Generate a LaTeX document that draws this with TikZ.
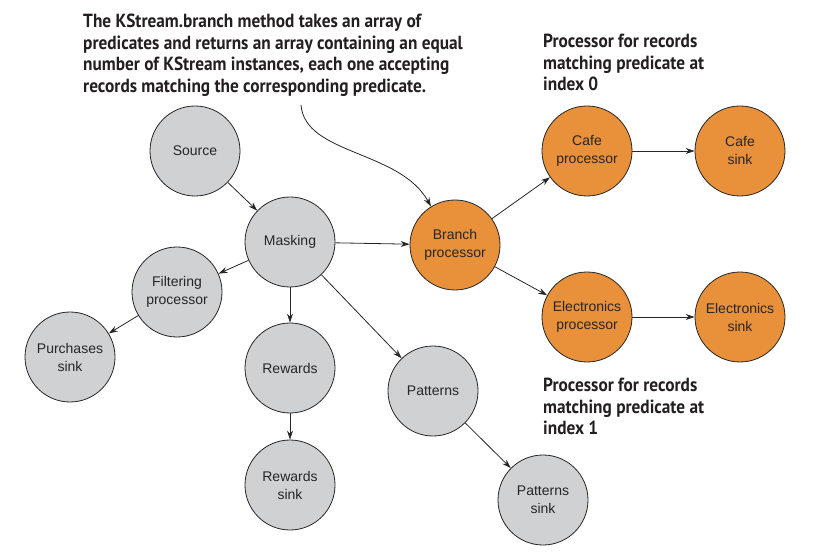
\documentclass[tikz,border=0pt]{standalone}
\usepackage{fontspec}
\setmainfont{Liberation Sans}
\newfontfamily\annfont[FakeStretch=0.91]{PT Sans Bold}
\usetikzlibrary{arrows.meta}
\definecolor{nodegray}{HTML}{D0D1D3}
\definecolor{nodeorange}{HTML}{E8903A}
\definecolor{anntext}{HTML}{231F20}
\begin{document}
\begin{tikzpicture}[x=1pt,y=-1pt,
  proc/.style={circle,draw=black!85,line width=0.8pt,minimum size=90pt,inner sep=0pt,
    font=\fontsize{14}{18}\selectfont,align=center,text=black!85},
  grayproc/.style={proc,fill=nodegray},
  orangeproc/.style={proc,fill=nodeorange},
  conn/.style={line width=0.8pt,draw=black!85,-{Stealth[length=9pt,width=6pt]}},
  ann/.style={font=\annfont\fontsize{19}{21.5}\selectfont,text=anntext,align=left,anchor=north west,inner sep=0pt}]
\useasboundingbox (0,0) rectangle (819,553);
\node[grayproc] (source) at (195,151) {Source};
\node[grayproc] (masking) at (290,242) {Masking};
\node[grayproc] (filter) at (177,292) {Filtering\\processor};
\node[grayproc] (purch) at (70,357) {Purchases\\sink};
\node[grayproc] (rewards) at (290,368) {Rewards};
\node[grayproc] (rsink) at (290,485) {Rewards\\sink};
\node[grayproc] (patterns) at (433,391) {Patterns};
\node[grayproc] (psink) at (543,500) {Patterns\\sink};
\node[orangeproc] (branch) at (455,245) {Branch\\processor};
\node[orangeproc] (cafe) at (587,151) {Cafe\\processor};
\node[orangeproc] (cafesink) at (740,151) {Cafe\\sink};
\node[orangeproc] (elec) at (587,317) {Electronics\\processor};
\node[orangeproc] (elecsink) at (740,317) {Electronics\\sink};

\node[ann] (topnote) at (83,14) {The KStream.branch method takes an array of\\predicates and returns an array containing an equal\\number of KStream instances, each one accepting\\records matching the corresponding predicate.};
\node[ann] (note0) at (543,34) {Processor for records\\matching predicate at\\index 0};
\node[ann] (note1) at (543,378) {Processor for records\\matching predicate at\\index 1};
\coordinate (curvestart) at (301,105);

\draw[conn] (source) -- (masking);
\draw[conn] (masking) -- (filter);
\draw[conn] (filter) -- (purch);
\draw[conn] (masking) -- (rewards);
\draw[conn] (rewards) -- (rsink);
\draw[conn] (masking) -- (patterns);
\draw[conn] (patterns) -- (psink);
\draw[conn] (masking) -- (branch);
\draw[conn] (branch) -- (cafe);
\draw[conn] (branch) -- (elec);
\draw[conn] (cafe) -- (cafesink);
\draw[conn] (elec) -- (elecsink);
\draw[conn] (curvestart) .. controls (305,155) and (400,150) .. (branch.122);
\end{tikzpicture}
\end{document}
